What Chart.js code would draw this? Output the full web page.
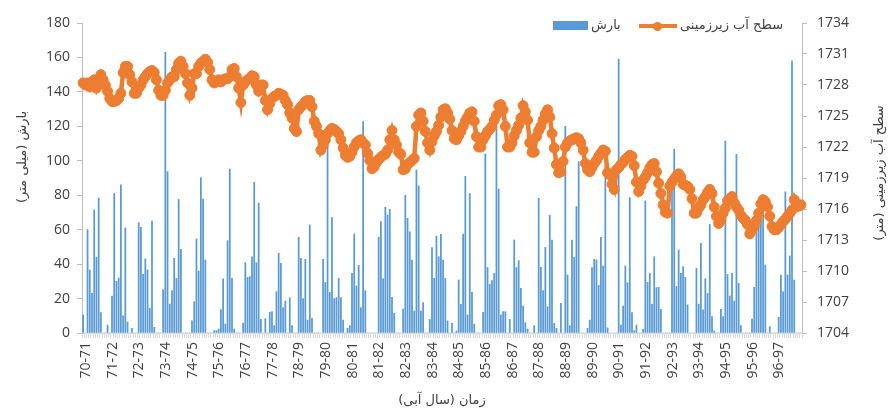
<!DOCTYPE html>
<html>
<head>
<meta charset="utf-8">
<script src="https://cdn.jsdelivr.net/npm/chart.js@4.4.1/dist/chart.umd.min.js"></script>
<style>
  html, body { margin: 0; padding: 0; background: #ffffff; }
  #wrap { position: relative; width: 888px; height: 412px; overflow: hidden; }
  canvas { display: block; }
  .lg { position: absolute; }
  .lgtext { position: absolute; font-family: "DejaVu Sans", sans-serif; font-size: 13px; line-height: 16px; color: #404040; white-space: nowrap; direction: rtl; }
</style>
</head>
<body>
<div id="wrap">
  <canvas id="c" width="888" height="412"></canvas>
  <div class="lg" style="left:553px;top:21px;width:35px;height:9px;background:#5B9BD5;"></div>
  <div class="lgtext" id="lgRain" style="left:591px;top:17px;"></div>
  <div class="lg" style="left:639px;top:24px;width:38px;height:4px;background:#ED7D31;"></div>
  <div class="lg" style="left:653px;top:21.5px;width:9px;height:9px;border-radius:50%;background:#ED7D31;"></div>
  <div class="lgtext" id="lgLevel" style="left:680px;top:17px;"></div>
</div>
<script>
// ---- data ----
const yearLabels = ["70-71","71-72","72-73","73-74","74-75","75-76","76-77","77-78","78-79","79-80",
  "80-81","81-82","82-83","83-84","84-85","85-86","86-87","87-88","88-89","89-90",
  "90-91","91-92","92-93","93-94","94-95","95-96","96-97"];

const seriesRainName = "بارش";
const seriesLevelName = "سطح آب زیرزمینی";
const leftAxisTitle = "بارش (میلی متر)";
const rightAxisTitle = "سطح آب زیرزمینی (متر)";
const xAxisTitle = "زمان (سال آبی)";

// monthly precipitation (mm), 12 values per water year
const precipitation = [
  10.5, 0, 60, 36.6, 23, 71.4, 44, 78.4, 11.8, 0, 0, 4.6,
  0, 21.5, 81, 30, 32, 86, 10, 61, 6.4, 0, 2.7, 0,
  0, 64, 61.4, 34, 43, 36.6, 14.3, 65, 3.3, 0, 0, 0,
  25, 163, 93.7, 16.8, 24.6, 43.4, 31.7, 77.6, 48.6, 0, 0, 0,
  0, 7, 18.2, 54.6, 36, 90.2, 77.8, 42.4, 0, 0, 0, 1.4,
  1.4, 2.3, 13.4, 31.4, 5.2, 53.6, 95.2, 31.7, 2.3, 0, 0, 0,
  5.8, 40.8, 32.3, 32.7, 44.3, 87.5, 40.8, 75.5, 7.9, 0, 8.3, 0,
  12, 12.4, 4.3, 24, 46.3, 40.5, 14.7, 18.6, 0, 20.5, 4.3, 0,
  0, 55.6, 43.4, 20, 42.8, 7.5, 62.7, 8.5, 0, 0, 0, 0,
  42.8, 29.4, 110, 23.6, 67, 20, 20.5, 31.7, 20.5, 7.5, 0, 2.7,
  4.3, 34.6, 57.5, 27.3, 39.3, 14.7, 122.7, 24.6, 0, 0, 0, 0,
  0, 55.6, 64.7, 31.5, 73, 68.5, 71.8, 20.7, 11.4, 0, 0, 0,
  13.9, 80, 66.6, 58.8, 42.4, 12.8, 94.7, 85.4, 12.8, 17.6, 0, 0,
  7.9, 49.6, 31.7, 56.3, 44.3, 57.3, 42.4, 31.7, 7, 0, 5.6, 0,
  1.2, 30.8, 16.6, 57.5, 91, 10.5, 81, 23.6, 5.2, 0, 0, 0,
  12, 104, 38, 28.3, 30.4, 34.6, 119.8, 83.6, 10.5, 12.4, 12.4, 0,
  7.9, 0, 54, 38, 42, 26, 15.7, 6, 2.3, 0, 0, 4.3,
  0, 78.2, 38.1, 24.6, 49.7, 15.3, 68.3, 54, 5.6, 2.7, 0, 17.2,
  0, 120, 33.7, 4.3, 54, 44, 73.4, 99.5, 0, 0, 0, 2.7,
  7.5, 38, 42.8, 42.4, 27.7, 55.6, 38.9, 97, 3, 0, 0, 0,
  0, 159, 4.6, 15.7, 38.9, 29.2, 78.6, 11.8, 1.4, 4.6, 0, 0,
  2.1, 76.7, 29.4, 34.6, 16.8, 44.3, 26.3, 26.5, 13.7, 0, 0, 0,
  0, 86, 106.7, 27, 48.2, 34.6, 38.5, 32.3, 16.3, 0, 0, 0,
  37.6, 16.8, 52, 13.4, 31.5, 23, 63, 9.5, 1.2, 0, 0, 13.7,
  9.5, 111.5, 34, 21.5, 34.6, 18.6, 103.8, 28.8, 4.3, 0, 0, 0,
  0, 8.1, 26.5, 61.7, 67.6, 67.2, 75, 39.5, 0, 3.7, 0, 0,
  0, 9.1, 33.7, 24, 82, 33.7, 44.7, 158, 30.8, 0, 0, 0
];

// monthly groundwater level (m), 12 values per water year
const groundwaterLevel = [
  1728.2, 1728.0, 1728.2, 1727.8, 1728.3, 1728.5, 1727.7, 1728.3, 1729.0, 1728.5, 1728.0, 1727.4,
  1726.7, 1726.4, 1726.4, 1726.5, 1726.7, 1727.2, 1729.2, 1729.8, 1729.8, 1729.0, 1728.3, 1727.2,
  1727.2, 1727.7, 1728.0, 1728.5, 1728.8, 1729.1, 1729.3, 1729.4, 1729.2, 1728.5, 1727.5, 1727.0,
  1727.0, 1727.5, 1728.2, 1728.5, 1728.8, 1728.8, 1729.5, 1730.1, 1730.3, 1729.8, 1729.1, 1728.2,
  1727.0, 1727.7, 1729.1, 1729.1, 1729.8, 1730.1, 1730.3, 1730.5, 1730.2, 1729.5, 1728.5, 1728.2,
  1728.3, 1728.5, 1728.3, 1728.5, 1728.6, 1728.6, 1728.8, 1729.5, 1729.6, 1728.8, 1727.7, 1726.3,
  1728.0, 1728.3, 1728.5, 1728.6, 1728.9, 1728.8, 1728.0, 1727.4, 1728.0, 1728.0, 1726.5, 1725.6,
  1726.2, 1726.7, 1726.9, 1727.0, 1727.2, 1727.1, 1727.0, 1726.5, 1726.1, 1725.3, 1724.8, 1723.8,
  1723.5, 1725.6, 1725.9, 1726.1, 1726.4, 1726.5, 1726.5, 1725.9, 1724.5, 1724.0, 1723.3, 1721.7,
  1722.2, 1722.7, 1723.3, 1723.6, 1723.8, 1723.7, 1723.5, 1723.3, 1722.7, 1721.9, 1721.2, 1721.0,
  1721.1, 1721.5, 1722.0, 1722.4, 1722.6, 1722.7, 1722.4, 1722.2, 1721.4, 1720.7, 1719.9, 1720.1,
  1720.5, 1720.8, 1721.0, 1721.2, 1721.3, 1721.7, 1722.7, 1723.6, 1722.7, 1722.2, 1721.5, 1721.3,
  1719.8, 1719.9, 1720.3, 1720.5, 1720.7, 1720.9, 1724.0, 1725.1, 1725.3, 1724.5, 1723.5, 1722.4,
  1721.7, 1722.5, 1723.1, 1723.5, 1724.1, 1724.9, 1725.6, 1725.7, 1725.3, 1724.7, 1723.6, 1722.8,
  1722.7, 1723.1, 1723.5, 1724.0, 1724.5, 1724.9, 1725.3, 1725.4, 1724.5, 1723.0, 1722.0, 1722.0,
  1722.7, 1723.1, 1723.5, 1723.7, 1724.0, 1724.6, 1725.1, 1726.0, 1726.1, 1725.6, 1724.0, 1722.0,
  1722.0, 1722.4, 1723.1, 1723.6, 1724.1, 1724.8, 1726.0, 1725.4, 1724.6, 1722.4, 1721.5, 1721.5,
  1723.0, 1723.6, 1724.0, 1724.6, 1725.2, 1725.6, 1724.9, 1723.3, 1721.9, 1720.3, 1719.5, 1719.6,
  1720.6, 1722.0, 1722.4, 1722.6, 1722.7, 1722.8, 1722.9, 1722.8, 1722.4, 1721.7, 1720.4, 1719.8,
  1719.6, 1720.0, 1720.4, 1720.7, 1721.1, 1721.4, 1721.7, 1721.6, 1719.5, 1719.3, 1718.4, 1717.9,
  1719.8, 1720.0, 1720.3, 1720.5, 1720.8, 1721.0, 1721.2, 1721.1, 1720.2, 1718.6, 1717.7, 1718.2,
  1718.8, 1719.1, 1719.5, 1720.0, 1720.3, 1720.4, 1719.6, 1718.5, 1717.5, 1716.4, 1715.7, 1715.6,
  1718.2, 1718.6, 1718.9, 1719.2, 1719.4, 1719.1, 1718.4, 1718.3, 1718.2, 1717.9, 1717.0, 1715.6,
  1715.6, 1716.1, 1716.4, 1716.9, 1717.2, 1717.6, 1717.9, 1717.5, 1716.2, 1715.3, 1714.6, 1714.9,
  1715.6, 1716.1, 1716.8, 1717.0, 1717.2, 1716.6, 1716.2, 1715.9, 1715.4, 1715.1, 1714.9, 1714.5,
  1713.6, 1714.0, 1714.3, 1714.9, 1715.6, 1716.5, 1716.9, 1716.7, 1716.2, 1715.3, 1714.3, 1714.0,
  1714.0, 1714.2, 1714.5, 1714.8, 1715.0, 1715.3, 1715.6, 1715.9, 1716.9, 1716.2, 1716.3, 1716.4
];

const MONTHS_PER_YEAR = 12;

// ---- build ----
const monthLabels = [];
yearLabels.forEach(y => { for (let m = 0; m < MONTHS_PER_YEAR; m++) monthLabels.push(y); });

document.getElementById('lgRain').textContent = seriesRainName;
document.getElementById('lgLevel').textContent = seriesLevelName;

const textColor = '#404040';
const axisColor = '#BFBFBF';
const tickFont = { family: '"Open Sans", sans-serif', size: 14 };

const titlesPlugin = {
  id: 'rtlTitles',
  afterDraw(chart) {
    const ctx = chart.ctx;
    const a = chart.chartArea;
    ctx.save();
    ctx.font = '13px "DejaVu Sans"';
    ctx.fillStyle = textColor;
    ctx.direction = 'rtl';
    ctx.textAlign = 'center';
    ctx.textBaseline = 'middle';
    ctx.save();
    ctx.translate(23, a.top + 134);
    ctx.rotate(-Math.PI / 2);
    ctx.fillText(leftAxisTitle, 0, 0);
    ctx.restore();
    ctx.save();
    ctx.translate(880, a.top + 150);
    ctx.rotate(-Math.PI / 2);
    ctx.fillText(rightAxisTitle, 0, 0);
    ctx.restore();
    ctx.fillText(xAxisTitle, (a.left + a.right) / 2, 401);
    ctx.restore();
  }
};

new Chart(document.getElementById('c'), {
  type: 'bar',
  data: {
    labels: monthLabels,
    datasets: [
      {
        type: 'line',
        label: seriesLevelName,
        data: groundwaterLevel,
        yAxisID: 'y1',
        borderColor: '#ED7D31',
        backgroundColor: '#ED7D31',
        borderWidth: 4.5,
        pointRadius: 5,
        pointBackgroundColor: '#ED7D31',
        pointBorderColor: '#ED7D31',
        pointBorderWidth: 1,
        tension: 0,
        order: 0
      },
      {
        type: 'bar',
        label: seriesRainName,
        data: precipitation,
        yAxisID: 'y',
        backgroundColor: '#5B9BD5',
        borderWidth: 0,
        barThickness: 1.1,
        order: 1
      }
    ]
  },
  options: {
    responsive: false,
    animation: false,
    devicePixelRatio: 1,
    events: [],
    layout: { padding: { top: 23, left: 0, right: 0, bottom: 0 } },
    plugins: {
      legend: { display: false },
      tooltip: { enabled: false },
      title: { display: false }
    },
    scales: {
      x: {
        type: 'category',
        offset: true,
        grid: { display: true, drawOnChartArea: false, drawTicks: true, tickLength: 5, color: '#D9D9D9', offset: true },
        border: { display: true, color: '#D9D9D9', width: 1 },
        ticks: {
          autoSkip: false,
          minRotation: 90,
          maxRotation: 90,
          padding: 4,
          labelOffset: 3,
          color: textColor,
          font: tickFont,
          callback: function (value, index) {
            return index % MONTHS_PER_YEAR === 0 ? yearLabels[index / MONTHS_PER_YEAR] : '';
          }
        },
        afterFit(scale) { scale.height = 79; }
      },
      y: {
        position: 'left',
        min: 0,
        max: 180,
        grid: { drawOnChartArea: false, drawTicks: true, tickLength: 5, color: axisColor },
        border: { display: true, color: axisColor, width: 1 },
        ticks: { stepSize: 20, padding: 7, color: textColor, font: tickFont,
                 callback: v => String(v) },
        afterFit(scale) { scale.width = 82; }
      },
      y1: {
        position: 'right',
        min: 1704,
        max: 1734,
        grid: { drawOnChartArea: false, drawTicks: true, tickLength: 5, color: axisColor },
        border: { display: true, color: axisColor, width: 1 },
        ticks: { stepSize: 3, padding: 10, color: textColor, font: tickFont,
                 callback: v => String(v) },
        afterFit(scale) { scale.width = 86; }
      }
    }
  },
  plugins: [titlesPlugin]
});
</script>
</body>
</html>
